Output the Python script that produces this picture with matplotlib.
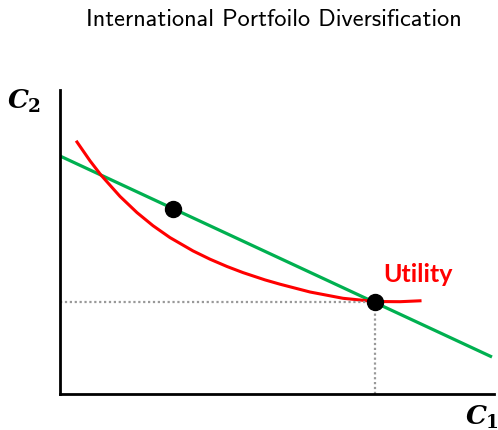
import matplotlib.pyplot as plt

plt.rcParams['mathtext.fontset'] = 'custom'
plt.rcParams['mathtext.it'] = 'DejaVu Serif:italic:bold'
plt.rcParams['mathtext.rm'] = 'DejaVu Serif:bold'

# budget line (C1, C2)
budget_x = [0, 432]
budget_y = [238, 37]

# utility curve
util_x = [17, 30, 41, 60, 77, 93, 110, 133, 150, 167, 183, 205, 220, 250, 283, 315, 340, 360]
util_y = [252, 233.2, 218.9, 197.6, 181.4, 168.3, 156.4, 143.1, 134.8, 127.5, 121.4, 114.1,
          109.8, 102, 95.7, 92.5, 92.3, 93.2]

# points on the budget line
dots_x = [113, 315]
dots_y = [185, 92]

fig = plt.figure(figsize=(4.98, 4.31), dpi=100)
ax = fig.add_axes([60 / 498, 36 / 431, 434 / 498, 304 / 431])

ax.plot(budget_x, budget_y, color='#00B050', lw=2.3, solid_capstyle='butt')
ax.plot(util_x, util_y, color='#FF0000', lw=2.2)
ax.plot([0, dots_x[1]], [dots_y[1], dots_y[1]], color='#999999', lw=1.6, ls=(0, (1, 1.2)))
ax.plot([dots_x[1], dots_x[1]], [0, dots_y[1]], color='#999999', lw=1.6, ls=(0, (1, 1.2)))
ax.plot(dots_x, dots_y, 'o', color='black', ms=11.5, zorder=5)

ax.text(358, 121, 'Utility', color='#FF0000', fontsize=18, fontweight='bold',
        fontfamily='Lato', ha='center', va='center')

ax.set_xlim(0, 434)
ax.set_ylim(0, 304)
ax.spines['top'].set_visible(False)
ax.spines['right'].set_visible(False)
ax.spines['left'].set_linewidth(2)
ax.spines['bottom'].set_linewidth(2)
ax.set_xticks([])
ax.set_yticks([])

fig.text(24 / 498, 1 - 101 / 431, r'$C_2$', fontsize=19, ha='center', va='center')
fig.text(482 / 498, 1 - 417 / 431, r'$C_1$', fontsize=19, ha='center', va='center')
fig.text(274 / 498, 1 - 20 / 431, 'International Portfoilo Diversification',
         fontsize=17.5, fontfamily='cmss10', ha='center', va='center')

plt.savefig('out.png', dpi=100)
